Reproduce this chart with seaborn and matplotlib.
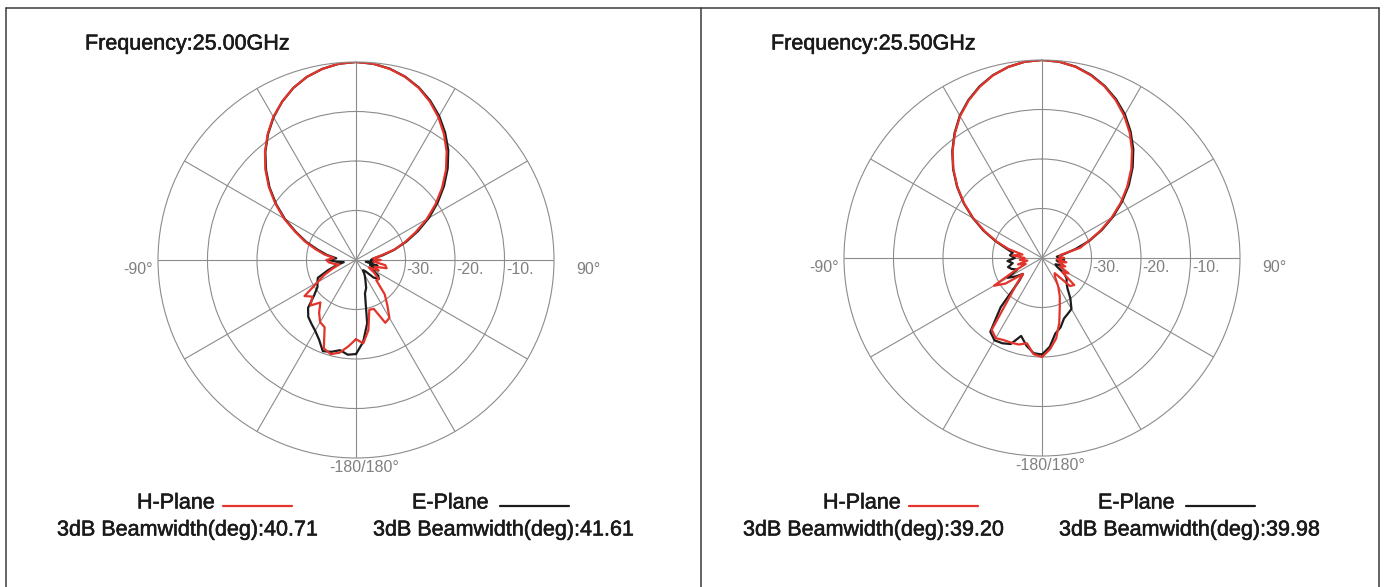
import matplotlib
matplotlib.use("Agg")
import matplotlib.pyplot as plt
import matplotlib.patheffects as pe
from matplotlib.lines import Line2D
import numpy as np
import pandas as pd
import seaborn as sns

# angles in degrees, clockwise from boresight (top)
angles = list(range(-180, 181, 5))

# 25.00 GHz
h_25_00 = [-24.0, -22.5, -21.0, -20.3, -21.0, -25.0, -25.5, -27.0, -28.8, -27.0,
           -28.5, -27.3, -31.0, -33.0, -35.0, -36.5, -35.5, -34.5, -34.0, -35.5,
           -33.5, -31.5, -29.0, -26.4, -23.2, -20.1, -17.0, -14.1, -11.4, -8.9,
           -6.6, -4.7, -3.0, -1.7, -0.8, -0.2, 0.0, -0.2, -0.8, -1.7,
           -3.0, -4.7, -6.7, -9.0, -11.5, -14.3, -17.3, -20.4, -23.5, -26.7,
           -29.5, -32.0, -35.0, -36.5, -35.0, -36.5, -34.0, -33.6, -36.0, -35.0,
           -37.0, -35.5, -34.0, -34.2, -31.0, -29.0, -26.5, -26.0, -29.5, -29.6,
           -25.6, -23.1, -24.0]
e_25_00 = [-21.0, -20.8, -21.5, -20.8, -20.4, -22.3, -23.5, -24.3, -25.0, -26.3,
           -29.0, -30.5, -31.0, -31.5, -34.0, -36.0, -37.5, -36.0, -34.5, -36.0,
           -34.0, -32.0, -29.3, -26.6, -23.4, -20.3, -17.2, -14.3, -11.5, -9.0,
           -6.7, -4.7, -3.0, -1.7, -0.8, -0.2, 0.0, -0.2, -0.75, -1.65,
           -2.9, -4.5, -6.4, -8.6, -11.0, -13.8, -16.8, -19.9, -23.0, -26.2,
           -29.2, -32.0, -34.5, -36.5, -37.0, -36.0, -38.0, -35.5, -37.0, -35.0,
           -36.5, -34.5, -34.0, -35.0, -37.0, -37.5, -36.5, -35.5, -34.0, -33.0,
           -27.0, -23.4, -21.0]

# 25.50 GHz
h_25_50 = [-20.0, -20.5, -22.5, -21.9, -21.8, -21.7, -21.3, -22.3, -30.0, -33.0,
           -35.0, -31.0, -28.8, -34.0, -36.5, -35.0, -37.0, -35.5, -36.5, -34.0,
           -36.0, -33.0, -30.2, -27.2, -24.0, -20.8, -17.7, -14.7, -11.9, -9.3,
           -6.9, -4.9, -3.2, -1.8, -0.8, -0.2, 0.0, -0.2, -0.8, -1.8,
           -3.1, -4.8, -6.8, -9.1, -11.7, -14.5, -17.5, -20.6, -23.8, -27.0,
           -30.0, -32.0, -36.0, -36.5, -35.5, -37.0, -35.0, -36.5, -35.0, -36.0,
           -33.8, -35.0, -31.5, -32.0, -36.0, -35.5, -33.5, -31.5, -29.5, -26.5,
           -23.5, -21.5, -20.0]
e_25_50 = [-20.5, -20.7, -22.0, -23.7, -21.5, -21.0, -20.8, -21.8, -27.0, -33.5,
           -35.0, -33.5, -32.0, -34.5, -33.5, -32.9, -34.0, -33.0, -34.5, -33.5,
           -34.0, -32.5, -30.0, -27.0, -23.9, -20.7, -17.6, -14.6, -11.8, -9.2,
           -6.8, -4.8, -3.1, -1.75, -0.8, -0.2, 0.0, -0.2, -0.75, -1.7,
           -3.0, -4.6, -6.5, -8.8, -11.3, -14.1, -17.1, -20.3, -23.5, -26.7,
           -29.8, -33.0, -35.5, -37.0, -36.0, -35.5, -37.0, -36.0, -35.5, -37.0,
           -36.5, -34.5, -33.5, -33.0, -32.0, -30.0, -28.1, -27.6, -27.0, -25.5,
           -24.5, -22.0, -20.5]

freqs = ["25.00", "25.50"]
h_bw = ["40.71", "39.20"]
e_bw = ["41.61", "39.98"]
ring_labels = ["-30.", "-20.", "-10."]

W, H = 1387, 587
RED = "#e3342b"
BLACK = "#1c1c1c"
GRID = "#8c8c8c"
LABEL = "#808080"
TXT = "#1a1a1a"


def fx(x):
    return x / W


def fy(y):
    return 1 - y / H


sns.set_theme(style="white")
plt.rcParams["font.family"] = ["Liberation Sans", "DejaVu Sans"]

fig = plt.figure(figsize=(W / 100, H / 100), dpi=100)
fig.patch.set_facecolor("white")

# the source text is a little heavier than a plain regular weight
bold = [pe.withStroke(linewidth=0.4, foreground=TXT)]

panels = [
    (356, 260, h_25_00, e_25_00),
    (1042, 258, h_25_50, e_25_50),
]
R = 198

for i, (cx, cy, h_vals, e_vals) in enumerate(panels):
    ax = fig.add_axes([fx(cx - R), fy(cy + R), 2 * R / W, 2 * R / H],
                      projection="polar")
    ax.set_facecolor("none")
    ax.set_theta_zero_location("N")
    ax.set_theta_direction(-1)

    df = pd.DataFrame({
        "theta": np.deg2rad(angles * 2),
        "db": h_vals + e_vals,
        "plane": ["H"] * len(angles) + ["E"] * len(angles),
    })
    sns.lineplot(data=df[df.plane == "E"], x="theta", y="db", ax=ax, sort=False,
                 estimator=None, color=BLACK, lw=1.6)
    sns.lineplot(data=df[df.plane == "H"], x="theta", y="db", ax=ax, sort=False,
                 estimator=None, color=RED, lw=1.6)

    ax.set_ylim(-40, 0)
    ax.set_rgrids([-30, -20, -10], labels=[])
    ax.set_thetagrids(range(0, 360, 30), labels=[])
    ax.grid(True, color=GRID, lw=0.8, ls="-")
    ax.spines["polar"].set_color(GRID)
    ax.spines["polar"].set_linewidth(0.8)
    ax.set_xlabel("")
    ax.set_ylabel("")

    dx = cx - 356
    dy = cy - 260
    fig.text(fx(85 + dx), fy(44), "Frequency:" + freqs[i] + "GHz",
             fontsize=15.5, color=TXT, va="center", ha="left", path_effects=bold)
    for j, lab in enumerate(ring_labels):
        fig.text(fx(cx + 50 + 50 * j), fy(270 + dy), lab, fontsize=11.5,
                 color=LABEL, va="center", ha="left")
    fig.text(fx(cx - 203), fy(270 + dy), "-90°", fontsize=11.5,
             color=LABEL, va="center", ha="right")
    fig.text(fx(cx + 220), fy(269 + dy), "90°", fontsize=11.5,
             color=LABEL, va="center", ha="left")
    fig.text(fx(cx + 8), fy(467 + dy), "-180/180°", fontsize=11.5,
             color=LABEL, va="center", ha="center")

    # legend block
    fig.text(fx(137 + dx), fy(503), "H-Plane", fontsize=15.5, color=TXT,
             va="center", ha="left", path_effects=bold)
    fig.add_artist(Line2D([fx(223 + dx), fx(292 + dx)], [fy(506), fy(506)],
                          color=RED, lw=1.6))
    fig.text(fx(412 + dx), fy(503), "E-Plane", fontsize=15.5, color=TXT,
             va="center", ha="left", path_effects=bold)
    fig.add_artist(Line2D([fx(500 + dx), fx(569 + dx)], [fy(506), fy(506)],
                          color=BLACK, lw=1.6))
    fig.text(fx(57 + dx), fy(530), "3dB Beamwidth(deg):" + h_bw[i],
             fontsize=15.5, color=TXT, va="center", ha="left", path_effects=bold)
    fig.text(fx(373 + dx), fy(530), "3dB Beamwidth(deg):" + e_bw[i],
             fontsize=15.5, color=TXT, va="center", ha="left", path_effects=bold)

# panel frames
frame = dict(color="#3a3a3a", lw=1.1)
fig.add_artist(Line2D([fx(6), fx(1379)], [fy(8), fy(8)], **frame))
for xpos in (6, 701, 1379):
    fig.add_artist(Line2D([fx(xpos), fx(xpos)], [fy(8), fy(590)], **frame))

fig.savefig("out.png", dpi=100, facecolor="white")
